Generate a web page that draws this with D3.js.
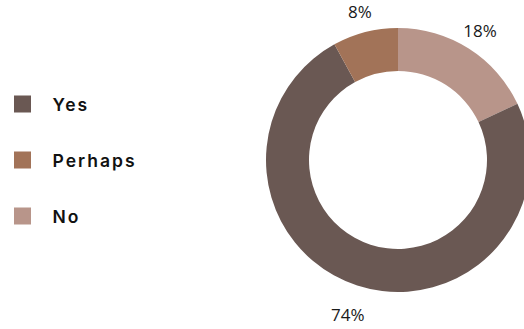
<!DOCTYPE html>
<html>
<head>
<meta charset="utf-8">
<script src="https://cdn.jsdelivr.net/npm/d3@7"></script>
<style>
  html, body { margin: 0; padding: 0; background: #fff; overflow: hidden; }
  svg { display: block; }
</style>
</head>
<body>
<svg id="chart" width="524" height="329"></svg>
<script>
// Survey answers, drawn clockwise from 12 o'clock
const sliceOrder = ["No", "Yes", "Perhaps"];
const sliceValues = [18, 74, 8];
// Legend order
const legendLabels = ["Yes", "Perhaps", "No"];
const colors = { Yes: "#6a5853", Perhaps: "#a27358", No: "#b8958a" };

const svg = d3.select("#chart");
const cx = 398, cy = 160;
const outerR = 132, innerR = 89;

const pie = d3.pie().sort(null).value(d => d.value);
const arcs = pie(sliceOrder.map((k, i) => ({ key: k, value: sliceValues[i] })));
const arc = d3.arc().innerRadius(innerR).outerRadius(outerR);

const g = svg.append("g").attr("transform", `translate(${cx},${cy})`);
g.selectAll("path.slice")
  .data(arcs)
  .join("path")
  .attr("class", "slice")
  .attr("d", arc)
  .attr("fill", d => colors[d.data.key]);

// Percentage labels outside the ring (lower labels sit a little further out)
const pctSize = 17;
g.selectAll("text.pct")
  .data(arcs)
  .join("text")
  .attr("class", "pct")
  .attr("transform", d => {
    const a = (d.startAngle + d.endAngle) / 2;
    const r = Math.cos(a) < 0 ? 162.5 : 153;
    return `translate(${r * Math.sin(a)},${-r * Math.cos(a) + pctSize * 0.36})`;
  })
  .attr("text-anchor", "middle")
  .attr("font-family", "'Open Sans', sans-serif")
  .attr("font-size", pctSize)
  .attr("fill", "#1a1a1a")
  .text(d => d.data.value + "%");

// Legend
const ly = d3.scalePoint().domain(legendLabels).range([104, 216]);
const leg = svg.append("g");
leg.selectAll("rect")
  .data(legendLabels)
  .join("rect")
  .attr("x", 14)
  .attr("y", d => ly(d) - 8.5)
  .attr("width", 17)
  .attr("height", 17)
  .attr("fill", d => colors[d]);
leg.selectAll("text")
  .data(legendLabels)
  .join("text")
  .attr("x", 52.5)
  .attr("y", d => ly(d) + 6.7)
  .attr("font-family", "Inter, sans-serif")
  .attr("font-weight", 600)
  .attr("font-size", 17.5)
  .attr("letter-spacing", "2px")
  .attr("fill", "#111")
  .text(d => d);
</script>
</body>
</html>
